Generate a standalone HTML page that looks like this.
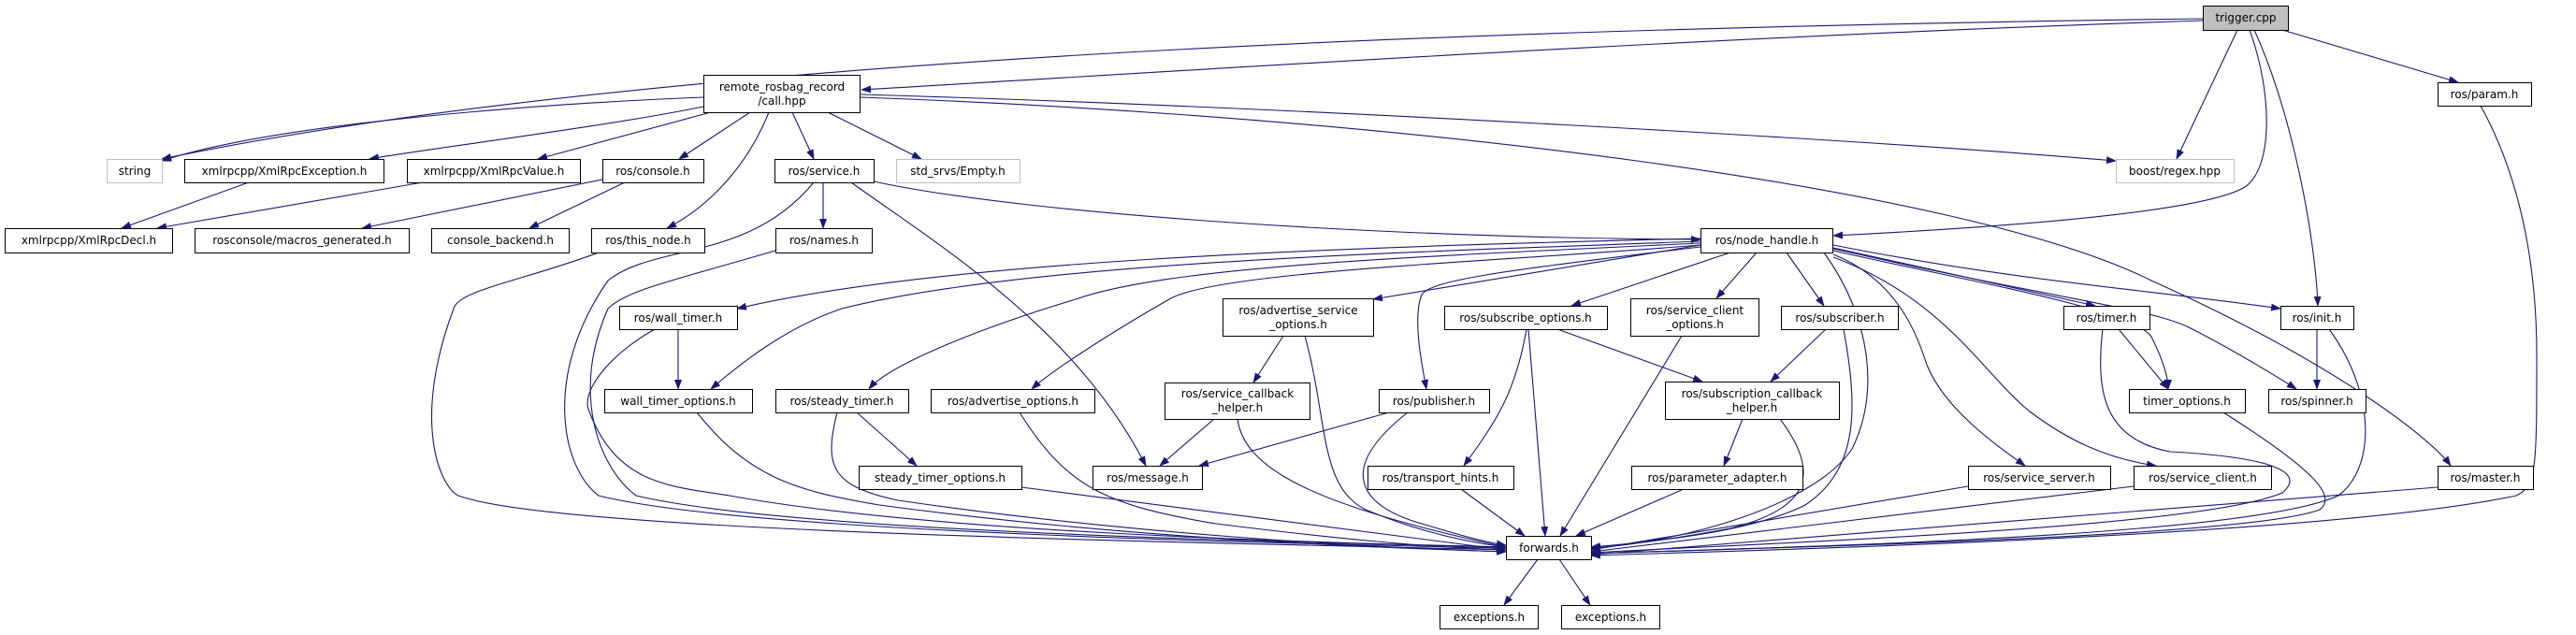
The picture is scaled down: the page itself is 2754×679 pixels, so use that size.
<!DOCTYPE html>
<html><head><meta charset="utf-8"><style>
html,body{margin:0;padding:0;background:#fff;}
svg{display:block;}
text{font-family:"DejaVu Sans","Liberation Sans",sans-serif;font-size:12px;fill:#000;}
</style></head><body>
<svg width="2754" height="679" viewBox="0 0 2754 679" xmlns="http://www.w3.org/2000/svg">
<defs>
<marker id="a" markerWidth="11" markerHeight="8" refX="10" refY="4" orient="auto" markerUnits="userSpaceOnUse">
<path d="M0,0 L11,4 L0,8 z" fill="#191970"/>
</marker>
</defs>
<g fill="none" stroke="#191970" stroke-width="1.1" marker-end="url(#a)">
<!-- trigger -->
<path d="M2355,20 C1600,30 700,60 173,170"/>
<path d="M2355,22 C1800,40 1200,80 921,96"/>
<path d="M2392,32 L2327,170"/>
<path d="M2405,32 C2430,100 2430,180 2400,200 C2350,230 2100,245 1960,252"/>
<path d="M2410,32 C2450,120 2475,250 2478,327"/>
<path d="M2440,32 L2628,88"/>
<!-- call.hpp -->
<path d="M752,104 C600,110 300,130 173,172"/>
<path d="M752,114 C650,135 450,160 395,170"/>
<path d="M760,120 L575,170"/>
<path d="M802,120 L726,170"/>
<path d="M822,120 C800,175 760,220 713,244"/>
<path d="M847,120 L870,170"/>
<path d="M885,120 L985,170"/>
<path d="M920,101 C1400,115 2000,150 2262,172"/>
<path d="M920,104 C1500,125 2100,200 2300,300 C2500,390 2600,470 2620,498"/>
<!-- second level -->
<path d="M266,195 L130,244"/>
<path d="M452,195 L168,244"/>
<path d="M644,192 L387,244"/>
<path d="M668,195 L566,244"/>
<path d="M880,195 L880,244"/>
<path d="M934,194 C1100,230 1500,255 1818,256"/>
<path d="M910,195 C1000,260 1150,350 1225,498"/>
<path d="M870,195 C800,280 700,260 650,300 C580,400 600,500 640,530 C800,570 1400,582 1610,586"/>
<path d="M640,270 C560,300 490,310 485,330 C440,450 470,520 490,530 C600,570 1300,580 1610,588"/>
<path d="M829,268 C720,300 670,310 650,330 C610,420 640,500 680,530 C850,570 1400,580 1610,585"/>
<!-- node_handle -->
<path d="M1818,255 C1400,265 1000,280 788,330"/>
<path d="M1818,258 C1500,270 1100,280 900,330 C840,350 790,390 760,416"/>
<path d="M1818,260 C1500,275 1250,285 1150,320 C1050,350 950,390 929,416"/>
<path d="M1818,262 C1600,280 1300,290 1250,320 C1180,360 1120,400 1103,416"/>
<path d="M1818,262 L1468,320"/>
<path d="M1818,264 C1600,290 1530,300 1520,315 C1510,340 1520,390 1525,416"/>
<path d="M1850,270 L1680,327"/>
<path d="M1878,270 L1835,319"/>
<path d="M1910,270 L1950,327"/>
<path d="M1960,265 L2240,327"/>
<path d="M1960,262 C2150,300 2300,310 2438,330"/>
<path d="M1960,266 C2200,320 2300,330 2340,350 C2380,370 2430,400 2455,416"/>
<path d="M1960,268 C2100,300 2280,330 2300,360 C2310,380 2318,400 2318,416"/>
<path d="M1960,272 C2030,300 2050,360 2060,390 C2080,440 2140,480 2165,498"/>
<path d="M1960,275 C2080,320 2120,400 2170,440 C2210,470 2250,490 2305,498"/>
<path d="M1950,270 C2000,340 2010,420 1980,480 C1940,540 1800,580 1701,586"/>
<!-- lower -->
<path d="M725,352 L725,416"/>
<path d="M700,352 C650,380 620,420 630,440 C660,520 720,520 780,530 C1000,570 1400,580 1610,585"/>
<path d="M745,441 C800,510 850,525 940,540 C1200,575 1450,585 1610,590"/>
<path d="M916,441 L980,498"/>
<path d="M895,441 C880,500 890,520 960,535 C1200,570 1450,585 1610,590"/>
<path d="M1092,521 L1610,588"/>
<path d="M1090,441 C1140,520 1180,540 1300,560 C1420,575 1520,585 1610,588"/>
<path d="M1372,359 L1340,409"/>
<path d="M1395,359 C1420,450 1410,520 1460,545 C1520,570 1570,580 1610,585"/>
<path d="M1298,448 L1240,498"/>
<path d="M1323,448 C1330,500 1400,540 1610,585"/>
<path d="M1485,441 L1282,498"/>
<path d="M1505,441 C1430,500 1450,540 1520,560 C1570,575 1590,580 1610,583"/>
<path d="M1632,352 C1620,420 1600,450 1565,498"/>
<path d="M1634,352 L1652,573"/>
<path d="M1665,352 L1820,408"/>
<path d="M1798,359 L1668,573"/>
<path d="M1562,523 L1630,573"/>
<path d="M1800,523 L1685,573"/>
<path d="M1952,352 L1893,408"/>
<path d="M1971,352 C1985,430 1990,500 1930,540 C1870,570 1760,580 1701,585"/>
<path d="M1863,448 L1843,498"/>
<path d="M1903,448 C1950,510 1930,545 1850,565 C1780,578 1740,582 1701,587"/>
<path d="M2104,520 L1701,588"/>
<path d="M2281,520 L1701,590"/>
<path d="M2265,352 L2318,416"/>
<path d="M2248,352 C2240,420 2250,470 2320,483 C2450,490 2460,510 2440,527 C2350,565 1900,580 1701,591"/>
<path d="M2377,441 C2470,500 2500,530 2480,545 C2400,575 1900,585 1701,592"/>
<path d="M2477,352 L2477,416"/>
<path d="M2490,352 C2540,420 2540,500 2500,530 C2400,575 1900,585 1701,592"/>
<path d="M2606,521 L1701,593"/>
<path d="M2652,113 C2700,200 2712,300 2712,380 C2712,500 2712,520 2690,530 C2500,570 2000,585 1701,594"/>
<path d="M1644,598 L1608,647"/>
<path d="M1667,598 L1700,647"/>
</g>
<g stroke="#000" stroke-width="1" fill="#fff">
<rect x="2355.5" y="6.5" width="91" height="26" fill="#bfbfbf"/>
<rect x="752.5" y="80.5" width="167" height="40"/>
<rect x="2606.5" y="88.5" width="100" height="25"/>
<rect x="114.5" y="170.5" width="59" height="25" stroke="#bfbfbf"/>
<rect x="197.5" y="170.5" width="213" height="25"/>
<rect x="435.5" y="170.5" width="185" height="25"/>
<rect x="644.5" y="170.5" width="108" height="25"/>
<rect x="828.5" y="170.5" width="106" height="25"/>
<rect x="958.5" y="170.5" width="132" height="25" stroke="#bfbfbf"/>
<rect x="2262.5" y="170.5" width="126" height="25" stroke="#bfbfbf"/>
<rect x="5.5" y="244.5" width="179" height="26"/>
<rect x="208.5" y="244.5" width="229" height="26"/>
<rect x="461.5" y="244.5" width="147" height="26"/>
<rect x="632.5" y="244.5" width="121" height="26"/>
<rect x="829.5" y="244.5" width="103" height="26"/>
<rect x="1818.5" y="244.5" width="141" height="26"/>
<rect x="662.5" y="327.5" width="126" height="25"/>
<rect x="1307.5" y="319.5" width="161" height="40"/>
<rect x="1544.5" y="327.5" width="174" height="25"/>
<rect x="1743.5" y="319.5" width="137" height="40"/>
<rect x="1904.5" y="327.5" width="125" height="25"/>
<rect x="2206.5" y="327.5" width="92" height="25"/>
<rect x="2438.5" y="327.5" width="78" height="25"/>
<rect x="646.5" y="416.5" width="158" height="25"/>
<rect x="829.5" y="416.5" width="142" height="25"/>
<rect x="995.5" y="416.5" width="175" height="25"/>
<rect x="1245.5" y="409.5" width="155" height="39"/>
<rect x="1474.5" y="416.5" width="118" height="25"/>
<rect x="1780.5" y="408.5" width="186" height="40"/>
<rect x="2276.5" y="416.5" width="124" height="25"/>
<rect x="2425.5" y="416.5" width="104" height="25"/>
<rect x="918.5" y="498.5" width="174" height="25"/>
<rect x="1168.5" y="498.5" width="117" height="25"/>
<rect x="1462.5" y="498.5" width="156" height="25"/>
<rect x="1744.5" y="498.5" width="183" height="25"/>
<rect x="2104.5" y="498.5" width="152" height="25"/>
<rect x="2281.5" y="498.5" width="147" height="25"/>
<rect x="2606.5" y="498.5" width="102" height="25"/>
<rect x="1610.5" y="573.5" width="91" height="25"/>
<rect x="1539.5" y="647.5" width="105" height="25"/>
<rect x="1669.5" y="647.5" width="105" height="25"/>
</g>
<g text-anchor="middle">
<text x="2401" y="23">trigger.cpp</text>
<text x="836" y="97">remote_rosbag_record</text>
<text x="836" y="112">/call.hpp</text>
<text x="2656" y="105">ros/param.h</text>
<text x="144" y="187">string</text>
<text x="304" y="187">xmlrpcpp/XmlRpcException.h</text>
<text x="528" y="187">xmlrpcpp/XmlRpcValue.h</text>
<text x="698" y="187">ros/console.h</text>
<text x="881" y="187">ros/service.h</text>
<text x="1024" y="187">std_srvs/Empty.h</text>
<text x="2325" y="187">boost/regex.hpp</text>
<text x="95" y="261">xmlrpcpp/XmlRpcDecl.h</text>
<text x="323" y="261">rosconsole/macros_generated.h</text>
<text x="535" y="261">console_backend.h</text>
<text x="693" y="261">ros/this_node.h</text>
<text x="881" y="261">ros/names.h</text>
<text x="1889" y="261">ros/node_handle.h</text>
<text x="725" y="344">ros/wall_timer.h</text>
<text x="1388" y="336">ros/advertise_service</text>
<text x="1388" y="351">_options.h</text>
<text x="1631" y="344">ros/subscribe_options.h</text>
<text x="1812" y="336">ros/service_client</text>
<text x="1812" y="351">_options.h</text>
<text x="1967" y="344">ros/subscriber.h</text>
<text x="2252" y="344">ros/timer.h</text>
<text x="2477" y="344">ros/init.h</text>
<text x="725" y="433">wall_timer_options.h</text>
<text x="900" y="433">ros/steady_timer.h</text>
<text x="1083" y="433">ros/advertise_options.h</text>
<text x="1323" y="425">ros/service_callback</text>
<text x="1323" y="440">_helper.h</text>
<text x="1533" y="433">ros/publisher.h</text>
<text x="1873" y="425">ros/subscription_callback</text>
<text x="1873" y="440">_helper.h</text>
<text x="2338" y="433">timer_options.h</text>
<text x="2477" y="433">ros/spinner.h</text>
<text x="1005" y="515">steady_timer_options.h</text>
<text x="1227" y="515">ros/message.h</text>
<text x="1540" y="515">ros/transport_hints.h</text>
<text x="1836" y="515">ros/parameter_adapter.h</text>
<text x="2180" y="515">ros/service_server.h</text>
<text x="2355" y="515">ros/service_client.h</text>
<text x="2657" y="515">ros/master.h</text>
<text x="1656" y="590">forwards.h</text>
<text x="1592" y="664">exceptions.h</text>
<text x="1722" y="664">exceptions.h</text>
</g>
</svg>
</body></html>
